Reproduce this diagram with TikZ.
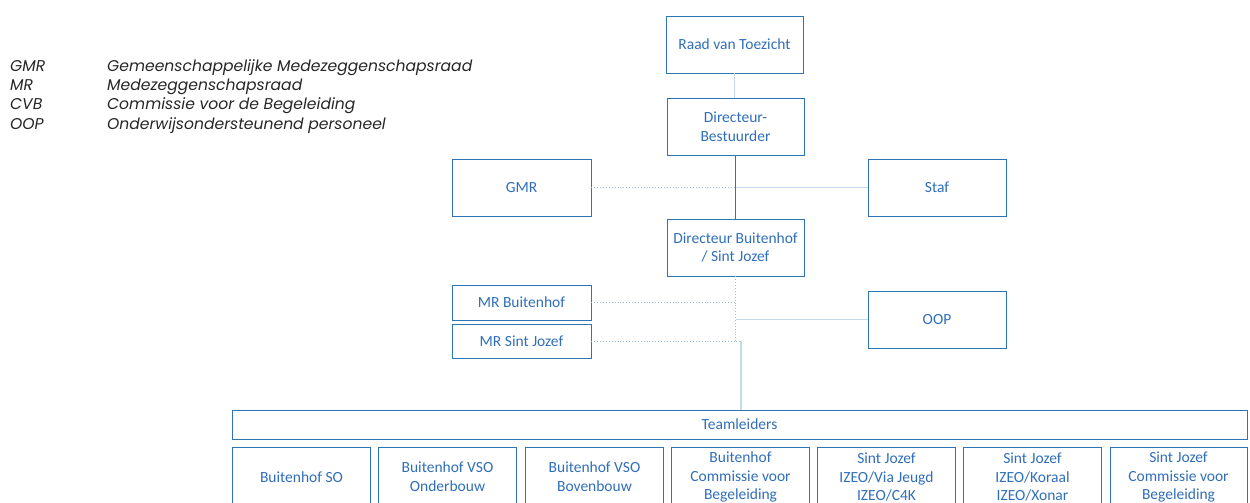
\documentclass[tikz,border=0pt]{standalone}
\usepackage{fontspec}
\setmainfont{Carlito}
\newfontfamily\legendfont{Poppins}
\definecolor{boxblue}{HTML}{2E75B6}
\definecolor{txtblue}{HTML}{2F6EBA}
\definecolor{lineblue}{HTML}{C5D9EE}
\definecolor{dotblue}{HTML}{9DB9DC}
\tikzset{
  box/.style={draw=boxblue, line width=0.9pt, text=txtblue, font=\fontsize{15.5}{18.7}\selectfont,
    align=center, inner sep=0pt, minimum width=137pt, minimum height=57pt},
  smallbox/.style={box, minimum height=35pt},
  botbox/.style={box, minimum width=138pt, minimum height=60pt},
  solidline/.style={draw=boxblue, line width=0.9pt},
  lightline/.style={draw=lineblue, line width=1.4pt},
  dotline/.style={draw=dotblue, line width=0.9pt, dotted},
  legend/.style={anchor=base west, inner sep=0pt, font=\legendfont\itshape\fontsize{15.6}{18}\selectfont, text=black!85}
}
\begin{document}
\begin{tikzpicture}[x=1pt,y=-1pt]
\useasboundingbox (0,0) rectangle (1250,503);
\clip (0,0) rectangle (1250,503);
% legend
\node[legend] (l1a) at (10,71) {GMR};
\node[legend] (l1b) at (107,71) {Gemeenschappelijke Medezeggenschapsraad};
\node[legend] (l2a) at (10,90) {MR};
\node[legend] (l2b) at (107,90) {Medezeggenschapsraad};
\node[legend] (l3a) at (10,109) {CVB};
\node[legend] (l3b) at (107,109) {Commissie voor de Begeleiding};
\node[legend] (l4a) at (10,129) {OOP};
\node[legend] (l4b) at (107,129) {Onderwijsondersteunend personeel};
% boxes
\node[box] (rvt) at (734.5,44.5) {Raad van Toezicht};
\node[box] (db) at (735.5,126.5) {Directeur-\\Bestuurder};
\node[box, minimum width=139pt] (gmr) at (521.5,187.5) {GMR};
\node[box, minimum width=138pt] (staf) at (937,187.5) {Staf};
\node[box] (dbj) at (735.5,247.5) {Directeur Buitenhof\\/ Sint Jozef};
\node[smallbox, minimum width=139pt] (mrb) at (521.5,302.5) {MR Buitenhof};
\node[smallbox, minimum width=139pt, minimum height=34pt] (mrsj) at (521.5,341) {MR Sint Jozef};
\node[box, minimum width=138pt] (oop) at (937,319.5) {OOP};
\node[box, minimum width=1015pt, minimum height=29pt] (tl) at (739.5,424.5) {Teamleiders};
\node[botbox] (b1) at (301.5,477) {Buitenhof SO};
\node[botbox] (b2) at (447.5,477) {Buitenhof VSO\\Onderbouw};
\node[botbox] (b3) at (594.5,477) {Buitenhof VSO\\Bovenbouw};
\node[botbox] (b4) at (740.5,477) {Buitenhof\\Commissie voor\\Begeleiding};
\node[botbox] (b5) at (886.5,477) {Sint Jozef\\IZEO/Via Jeugd\\IZEO/C4K};
\node[botbox] (b6) at (1032.5,477) {Sint Jozef\\IZEO/Koraal\\IZEO/Xonar};
\node[botbox, minimum width=137pt] (b7) at (1178.5,477) {Sint Jozef\\Commissie voor\\Begeleiding};
% connectors
\draw[lightline] (rvt.south) -- (rvt.south |- db.north);
\draw[solidline] (db.south) -- (dbj.north);
\draw[dotline] (gmr.east) -- (gmr.east -| db.south);
\draw[lightline] (staf.west -| db.south) -- (staf.west);
\coordinate (k) at (741,341);
\draw[dotline, line width=0.7pt] (dbj.south) -- (dbj.south |- k);
\draw[dotline] (mrb.east) -- (mrb.east -| dbj.south);
\draw[lightline] (oop.west -| dbj.south) -- (oop.west);
\draw[dotline] (mrsj.east) -- (k);
\draw[lightline] (k) -- (k |- tl.north);
\end{tikzpicture}
\end{document}
